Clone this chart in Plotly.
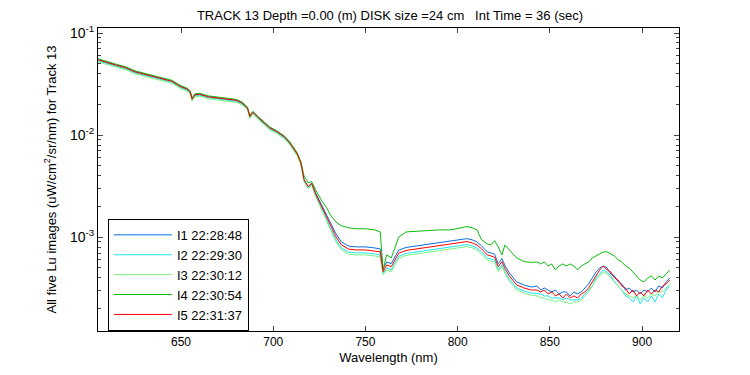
import plotly.graph_objects as go

wavelength = [605, 610, 615, 620, 625, 630, 635, 640, 645, 650, 653, 655, 656, 657.5, 660, 665, 670, 675, 680, 683,
              686, 687.3, 689, 692, 695, 698, 702, 706, 709, 711, 713, 715, 716.7, 719, 720.8, 723, 726, 729, 731, 734,
              737, 741, 745, 750, 755, 758, 759.6, 761.5, 764, 766, 768, 772, 778, 785, 790, 796, 801, 805, 808, 810.5,
              813, 816, 818, 820, 822, 824, 825.6, 828, 832, 836, 840,
              843, 845, 847, 849, 851, 853, 855, 857, 859, 861, 863, 865, 867, 869, 871, 873, 875, 877, 879, 881,
              883, 885, 887, 889, 891, 893, 895, 897, 899, 901, 903, 905, 907, 909, 911, 913, 915]

i1 = [0.0547, 0.0511, 0.0483, 0.0457, 0.0417, 0.0395, 0.0373, 0.0356, 0.0337, 0.0297, 0.0284, 0.0266, 0.0227, 0.0248, 0.0251,
      0.0237, 0.0232, 0.0227, 0.0219, 0.0207, 0.0185, 0.0154, 0.0167, 0.0148, 0.0132, 0.0118, 0.0108, 0.00962, 0.00840, 0.00751,
      0.00656, 0.00535, 0.00365, 0.00313, 0.00338, 0.00272, 0.00212, 0.00166, 0.00141, 0.00108,
      8.99e-4, 8.16e-4, 8.04e-4, 8.04e-4, 7.85e-4, 7.68e-4, 4.92e-4, 5.72e-4, 5.51e-4, 6.41e-4, 7.46e-4, 7.94e-4, 8.22e-4,
      8.54e-4, 8.80e-4, 9.20e-4, 9.51e-4, 9.69e-4, 9.41e-4, 8.99e-4, 8.22e-4, 7.18e-4, 7.02e-4, 6.82e-4, 5.51e-4, 6.17e-4,
      5.32e-4, 4.47e-4, 3.65e-4, 3.40e-4, 3.25e-4,
      3.33e-4, 3.04e-4, 3.18e-4, 3.04e-4, 2.91e-4, 3.04e-4, 2.78e-4, 2.91e-4, 2.91e-4, 2.66e-4, 2.91e-4, 2.78e-4, 2.91e-4,
      3.18e-4, 3.49e-4, 3.99e-4, 4.57e-4, 5.00e-4, 5.23e-4, 5.00e-4, 4.37e-4, 4.18e-4, 3.65e-4, 3.49e-4, 3.04e-4, 3.18e-4,
      2.91e-4, 3.04e-4, 2.78e-4, 3.04e-4, 2.91e-4, 3.18e-4, 2.91e-4, 3.33e-4, 3.18e-4, 3.65e-4, 3.99e-4]

i2 = [0.0535, 0.0500, 0.0472, 0.0447, 0.0408, 0.0386, 0.0365, 0.0348, 0.0330, 0.0290, 0.0278, 0.0260, 0.0222, 0.0243, 0.0245,
      0.0232, 0.0227, 0.0222, 0.0214, 0.0202, 0.0181, 0.0150, 0.0163, 0.0145, 0.0129, 0.0115, 0.0106, 0.00941, 0.00821, 0.00734,
      0.00641, 0.00523, 0.00357, 0.00306, 0.00331, 0.00258, 0.00199, 0.00149, 0.00123, 9.44e-4,
      7.85e-4, 7.13e-4, 7.02e-4, 7.02e-4, 6.86e-4, 6.71e-4, 4.40e-4, 5.00e-4, 4.81e-4, 5.60e-4, 6.51e-4, 6.93e-4, 7.18e-4,
      7.46e-4, 7.68e-4, 8.04e-4, 8.31e-4, 8.47e-4, 8.21e-4, 7.85e-4, 7.18e-4, 6.27e-4, 6.13e-4, 5.95e-4, 4.81e-4, 5.39e-4,
      4.64e-4, 3.91e-4, 3.19e-4, 2.97e-4, 2.84e-4,
      2.78e-4, 2.78e-4, 2.66e-4, 2.66e-4, 2.54e-4, 2.54e-4, 2.54e-4, 2.43e-4, 2.54e-4, 2.43e-4, 2.43e-4, 2.43e-4, 2.54e-4,
      2.78e-4, 3.04e-4, 3.33e-4, 3.99e-4, 4.37e-4, 4.78e-4, 4.57e-4, 4.18e-4, 3.65e-4, 3.33e-4, 3.04e-4, 2.66e-4, 2.54e-4,
      2.32e-4, 2.66e-4, 2.22e-4, 2.54e-4, 2.32e-4, 2.66e-4, 2.32e-4, 2.78e-4, 2.54e-4, 3.04e-4, 3.33e-4]

i3 = [0.0523, 0.0489, 0.0462, 0.0437, 0.0399, 0.0378, 0.0357, 0.0340, 0.0322, 0.0284, 0.0272, 0.0254, 0.0215, 0.0237, 0.0240,
      0.0227, 0.0222, 0.0217, 0.0209, 0.0198, 0.0177, 0.0145, 0.0160, 0.0141, 0.0126, 0.0113, 0.0103, 0.00920, 0.00803, 0.00718,
      0.00627, 0.00511, 0.00349, 0.00299, 0.00323, 0.00250, 0.00190, 0.00142, 0.00118, 9.02e-4,
      7.50e-4, 6.81e-4, 6.71e-4, 6.71e-4, 6.55e-4, 6.41e-4, 4.30e-4, 4.78e-4, 4.60e-4, 5.35e-4, 6.22e-4, 6.63e-4, 6.86e-4,
      7.13e-4, 7.34e-4, 7.68e-4, 7.94e-4, 8.09e-4, 7.85e-4, 7.50e-4, 6.86e-4, 5.99e-4, 5.86e-4, 5.69e-4, 4.60e-4, 5.15e-4,
      4.44e-4, 3.73e-4, 3.05e-4, 2.84e-4, 2.71e-4,
      2.66e-4, 2.54e-4, 2.54e-4, 2.43e-4, 2.43e-4, 2.32e-4, 2.43e-4, 2.32e-4, 2.32e-4, 2.22e-4, 2.32e-4, 2.32e-4, 2.43e-4,
      2.66e-4, 2.91e-4, 3.33e-4, 3.81e-4, 4.18e-4, 4.57e-4, 4.37e-4, 3.99e-4, 3.65e-4, 3.33e-4, 3.04e-4, 2.78e-4, 2.66e-4,
      2.54e-4, 2.66e-4, 2.43e-4, 2.66e-4, 2.54e-4, 2.78e-4, 2.66e-4, 2.91e-4, 2.91e-4, 3.18e-4, 3.49e-4]

i4 = [0.0560, 0.0523, 0.0494, 0.0467, 0.0427, 0.0404, 0.0382, 0.0364, 0.0345, 0.0304, 0.0291, 0.0272, 0.0230, 0.0254, 0.0257,
      0.0242, 0.0237, 0.0232, 0.0224, 0.0212, 0.0189, 0.0156, 0.0171, 0.0151, 0.0135, 0.0121, 0.0110, 0.00984, 0.00859, 0.00768,
      0.00671, 0.00547, 0.00399, 0.00341, 0.00351, 0.00291, 0.00232, 0.00194, 0.00165, 0.00141,
      1.291e-3, 1.234e-3, 1.21e-3, 1.21e-3, 1.179e-3, 1.127e-3, 4.78e-4, 6.71e-4, 6.27e-4, 7.86e-4, 1.003e-3, 1.127e-3,
      1.15e-3, 1.16e-3, 1.179e-3, 1.179e-3, 1.234e-3, 1.27e-3, 1.234e-3, 1.179e-3, 9.41e-4, 8.60e-4, 8.40e-4, 9.26e-4,
      8.03e-4, 6.71e-4, 8.40e-4, 7.51e-4, 6.27e-4, 5.77e-4, 5.66e-4,
      5.73e-4, 5.47e-4, 5.73e-4, 5.23e-4, 5.47e-4, 4.78e-4, 5.23e-4, 5.47e-4, 5.23e-4, 5.47e-4, 5.23e-4, 4.78e-4, 5.23e-4,
      5.47e-4, 5.73e-4, 6.27e-4, 6.56e-4, 6.86e-4, 7.18e-4, 7.18e-4, 6.86e-4, 6.56e-4, 5.99e-4, 5.73e-4, 5.23e-4, 5.00e-4,
      4.57e-4, 4.18e-4, 3.81e-4, 3.65e-4, 3.99e-4, 4.18e-4, 3.81e-4, 4.18e-4, 3.99e-4, 4.37e-4, 4.78e-4]

i5 = [0.0547, 0.0511, 0.0483, 0.0457, 0.0417, 0.0395, 0.0373, 0.0356, 0.0337, 0.0297, 0.0284, 0.0266, 0.0225, 0.0248, 0.0251,
      0.0237, 0.0232, 0.0227, 0.0219, 0.0207, 0.0185, 0.0152, 0.0167, 0.0148, 0.0132, 0.0118, 0.0108, 0.00962, 0.00840, 0.00751,
      0.00656, 0.00535, 0.00365, 0.00313, 0.00338, 0.00266, 0.00207, 0.00159, 0.00132, 0.00101,
      8.40e-4, 7.63e-4, 7.51e-4, 7.51e-4, 7.34e-4, 7.18e-4, 4.60e-4, 5.35e-4, 5.15e-4, 5.99e-4, 6.97e-4, 7.42e-4, 7.68e-4,
      7.98e-4, 8.22e-4, 8.60e-4, 8.89e-4, 9.06e-4, 8.79e-4, 8.40e-4, 7.68e-4, 6.71e-4, 6.56e-4, 6.37e-4, 5.15e-4, 5.77e-4,
      4.97e-4, 4.18e-4, 3.41e-4, 3.18e-4, 3.04e-4,
      3.04e-4, 2.91e-4, 3.04e-4, 2.78e-4, 2.91e-4, 2.66e-4, 2.78e-4, 2.54e-4, 2.78e-4, 2.54e-4, 2.66e-4, 2.54e-4, 2.78e-4,
      2.91e-4, 3.18e-4, 3.65e-4, 4.18e-4, 4.78e-4, 5.23e-4, 4.78e-4, 4.57e-4, 3.99e-4, 3.81e-4, 3.33e-4, 3.18e-4, 2.78e-4,
      3.04e-4, 2.66e-4, 2.91e-4, 2.66e-4, 3.04e-4, 2.78e-4, 3.04e-4, 2.91e-4, 3.33e-4, 3.49e-4, 3.81e-4]

series_names = ["I1 22:28:48", "I2 22:29:30", "I3 22:30:12", "I4 22:30:54", "I5 22:31:37"]
series_values = [i1, i2, i3, i4, i5]
series_colors = ["#0a6fe0", "#1ee6ee", "#7af27a", "#0bbd0b", "#ff0000"]

x_tick_values = [650, 700, 750, 800, 850, 900]
y_tick_values = [1e-3, 1e-2, 1e-1]
y_tick_labels = ["10<sup>-3</sup>", "10<sup>-2</sup>", "10<sup>-1</sup>"]
y_minor_values = [m * d for d in (1e-4, 1e-3, 1e-2) for m in range(2, 10)]

FONT = "Liberation Sans, Arial, sans-serif"

# the page body adds an 8 px offset, so the figure is 8 px smaller than the window
W, H = 742, 367

fig = go.Figure()
for name, vals, col in zip(series_names, series_values, series_colors):
    fig.add_trace(go.Scatter(x=wavelength, y=vals, mode="lines", name=name,
                             line=dict(color=col, width=1)))

fig.update_layout(
    width=W, height=H,
    margin=dict(l=90, r=71, t=20, b=44, autoexpand=False),
    paper_bgcolor="white", plot_bgcolor="white",
    font=dict(family=FONT, size=12, color="black"),
    title=dict(text="TRACK 13 Depth =0.00 (m) DISK size =24 cm\u00a0\u00a0\u00a0Int Time = 36 (sec)",
               x=382 / W, xanchor="center", y=1 - 7.5 / H, yanchor="middle",
               font=dict(family=FONT, size=13, color="black")),
    showlegend=True,
    legend=dict(x=0.017, y=0.37, xanchor="left", yanchor="top",
                bgcolor="white", bordercolor="black", borderwidth=1,
                font=dict(family=FONT, size=13, color="black"), itemwidth=58),
)
fig.update_xaxes(range=[605, 920], tickvals=x_tick_values, ticks="inside", ticklen=5,
                 showline=True, linecolor="black", linewidth=1, mirror="ticks", showgrid=False, zeroline=False,
                 tickfont=dict(family=FONT, size=12), automargin=False,
                 title=dict(text="Wavelength (nm)", font=dict(family=FONT, size=13), standoff=4))
fig.update_yaxes(type="log", range=[-3.9186, -0.9508], tickvals=y_tick_values, ticktext=y_tick_labels,
                 ticks="inside", ticklen=5,
                 minor=dict(tickvals=y_minor_values, ticks="inside", ticklen=3, showgrid=False),
                 showline=True, linecolor="black", linewidth=1, mirror="ticks", showgrid=False, zeroline=False,
                 tickfont=dict(family=FONT, size=14), automargin=False,
                 title=dict(text="All five Lu images (uW/cm<sup>2</sup>/sr/nm) for Track 13",
                            font=dict(family=FONT, size=13), standoff=10))

fig.write_html("out.html")
